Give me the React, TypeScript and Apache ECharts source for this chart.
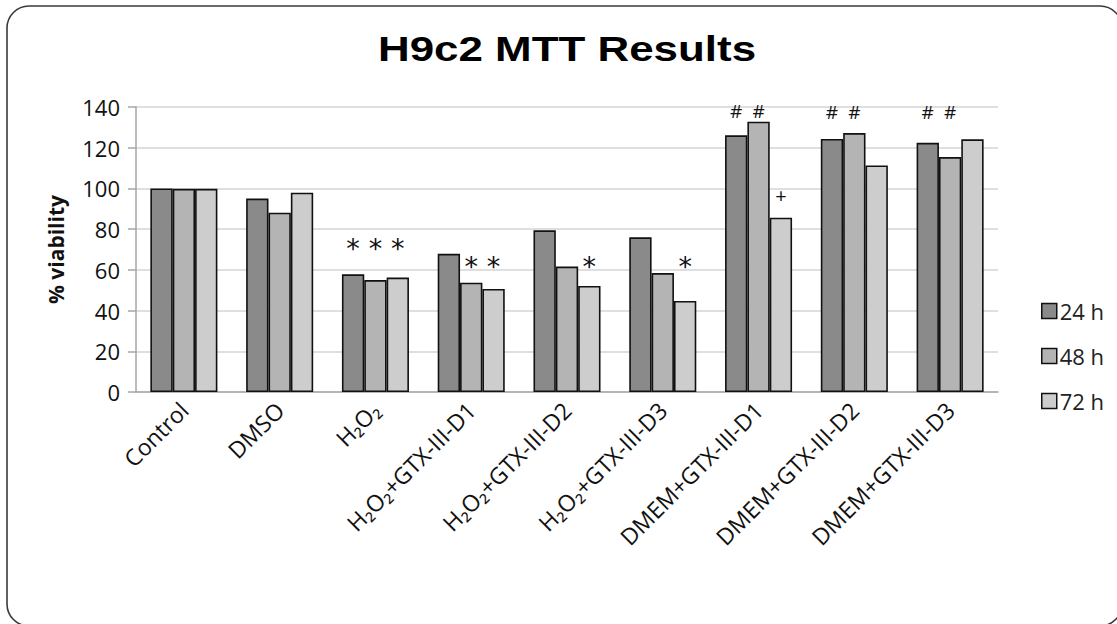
import React, { useEffect, useRef } from "react";
import * as echarts from "echarts";

const categories = [
  "Control",
  "DMSO",
  "H₂O₂",
  "H₂O₂+GTX-III-D1",
  "H₂O₂+GTX-III-D2",
  "H₂O₂+GTX-III-D3",
  "DMEM+GTX-III-D1",
  "DMEM+GTX-III-D2",
  "DMEM+GTX-III-D3",
];
const seriesNames = ["24 h", "48 h", "72 h"];
const values24 = [100, 95, 57.8, 67.9, 79.4, 76.0, 126.1, 124.3, 122.4];
const values48 = [99.8, 88.1, 55.0, 53.7, 61.6, 58.4, 132.8, 127.2, 115.4];
const values72 = [99.8, 97.9, 56.2, 50.6, 52.1, 44.7, 85.6, 111.3, 124.1];

// significance marks: [symbol, level (centre of mark, in % viability)]
type Mark = [string, number] | null;
const marks24: Mark[] = [null, null, ["*", 72.7], null, null, null, ["#", 138.2], ["#", 137.5], ["#", 137.5]];
const marks48: Mark[] = [null, null, ["*", 72.7], ["*", 63.4], null, null, ["#", 138.2], ["#", 137.5], ["#", 137.5]];
const marks72: Mark[] = [null, null, ["*", 72.7], ["*", 63.4], ["*", 63.4], ["*", 63.4], ["+", 96.6], null, null];

const yTicks = { min: 0, max: 140, interval: 20 };
const colors = ["#8a8a8a", "#b4b4b4", "#cdcdcd"];

const LABEL_FONT = "'Open Sans', sans-serif";

export default function App() {
  const ref = useRef<HTMLDivElement>(null);
  useEffect(() => {
    if (!ref.current) return;
    const chart = echarts.init(ref.current, undefined, { renderer: "svg" });
    const valueSets = [values24, values48, values72];
    const markSets = [marks24, marks48, marks72];

    const mainSeries = valueSets.map((vals, i) => ({
      name: seriesNames[i],
      type: "bar",
      stack: "s" + i,
      data: vals,
      barGap: "0%",
      barCategoryGap: "30%",
      itemStyle: { color: colors[i], borderColor: "#111", borderWidth: 1.6 },
    }));

    const markStyle = (sym: string) => {
      if (sym === "*")
        return { fontFamily: "'DejaVu Sans', sans-serif", fontSize: 27, offset: [0, 4] };
      if (sym === "#") return { fontFamily: LABEL_FONT, fontSize: 19, offset: [0, 0] };
      return { fontFamily: LABEL_FONT, fontSize: 20, offset: [0, 0] };
    };

    const markSeries = markSets.map((ms, i) => ({
      name: "mark" + i,
      type: "bar",
      stack: "s" + i,
      barGap: "0%",
      barCategoryGap: "30%",
      silent: true,
      itemStyle: { color: "rgba(0,0,0,0)", borderWidth: 0 },
      data: ms.map((m, j) =>
        m
          ? {
              value: m[1] - valueSets[i][j],
              label: {
                show: true,
                position: "top",
                distance: 0,
                formatter: m[0],
                verticalAlign: "middle",
                color: "#111",
                ...markStyle(m[0]),
              },
            }
          : { value: null }
      ),
    }));

    chart.setOption({
      animation: false,
      backgroundColor: "#ffffff",
      graphic: [
        {
          type: "rect",
          shape: { x: 7, y: 6, width: 1115, height: 620, r: 22 },
          style: { fill: "rgba(0,0,0,0)", stroke: "#3a3a3a", lineWidth: 1.6 },
          silent: true,
          z: -10,
        },
        {
          type: "text",
          x: 567,
          y: 49,
          scaleX: 1.22,
          style: {
            text: "H9c2 MTT Results",
            font: "bold 36px 'Liberation Sans', Arial, sans-serif",
            fill: "#000",
            align: "center",
            verticalAlign: "middle",
            textAlign: "center",
            textVerticalAlign: "middle",
          },
        },
      ],
      legend: {
        data: seriesNames,
        orient: "vertical",
        left: 1036,
        top: 295,
        itemWidth: 15,
        itemHeight: 15,
        itemGap: 23,
        icon: "rect",
        itemStyle: { borderColor: "#111", borderWidth: 1.5 },
        textStyle: { fontFamily: LABEL_FONT, fontSize: 22, color: "#222", padding: [0, 0, 0, -2] },
      },
      grid: { left: 136, right: 119, top: 107, bottom: 232, containLabel: false },
      xAxis: {
        type: "category",
        data: categories,
        axisLine: { lineStyle: { color: "#a6a6a6", width: 1.5 } },
        axisTick: { show: false },
        axisLabel: {
          rotate: 45,
          interval: 0,
          fontFamily: LABEL_FONT,
          fontSize: 23,
          color: "#111",
          margin: 14,
        },
      },
      yAxis: {
        type: "value",
        min: yTicks.min,
        max: yTicks.max,
        interval: yTicks.interval,
        name: "% viability",
        nameLocation: "middle",
        nameGap: 70,
        nameTextStyle: { fontFamily: LABEL_FONT, fontWeight: "bold", fontSize: 21, color: "#111" },
        axisLine: { show: true, lineStyle: { color: "#a6a6a6", width: 1.5 } },
        axisTick: { show: true, length: 8, lineStyle: { color: "#a6a6a6", width: 1.5 } },
        splitLine: { lineStyle: { color: "#d4d4d4", width: 1.5 } },
        axisLabel: { fontFamily: LABEL_FONT, fontSize: 22, color: "#111", margin: 16 },
      },
      series: [...mainSeries, ...markSeries],
    });
    return () => chart.dispose();
  }, []);
  return (
    <div
      ref={ref}
      style={{ position: "fixed", left: 0, top: 0, width: 1117, height: 624, background: "#fff" }}
    />
  );
}
